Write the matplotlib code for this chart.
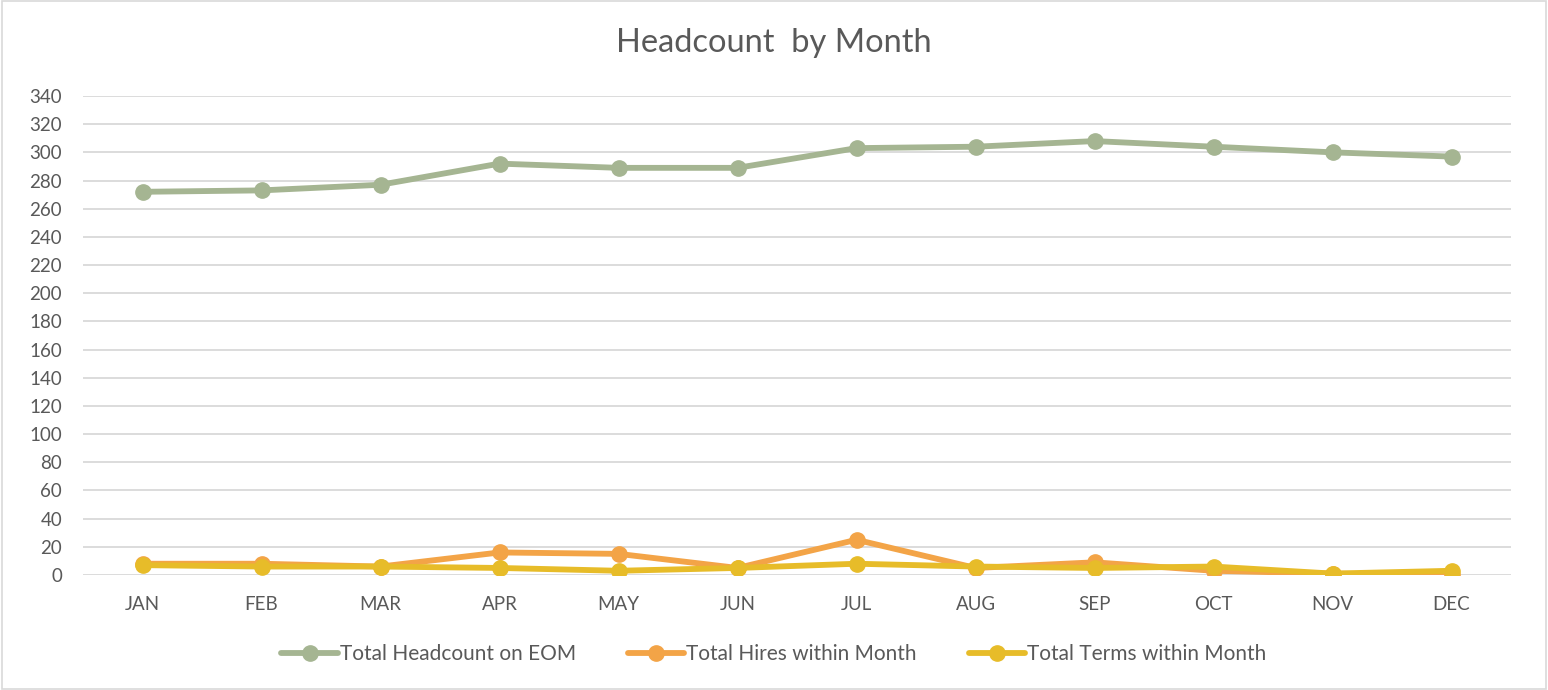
import matplotlib
matplotlib.use("Agg")
import matplotlib.pyplot as plt
from matplotlib.patches import Rectangle

months = ["JAN", "FEB", "MAR", "APR", "MAY", "JUN", "JUL", "AUG", "SEP", "OCT", "NOV", "DEC"]
headcount = [272, 273, 277, 292, 289, 289, 303, 304, 308, 304, 300, 297]
hires = [8, 8, 6, 16, 15, 5, 25, 5, 9, 3, 1, 0]
terms = [7, 6, 6, 5, 3, 5, 8, 6, 5, 6, 1, 3]

series_names = ["Total Headcount on EOM", "Total Hires within Month", "Total Terms within Month"]
colors = ["#A5B592", "#F3A447", "#E7BC29"]

plt.rcParams['font.family'] = ['Lato', 'DejaVu Sans']
text_color = "#595959"

fig = plt.figure(figsize=(15.48, 6.9), dpi=100)
ax = fig.add_axes([83/1548, 1-575/690, (1511-83)/1548, (575-96)/690])

x = list(range(len(months)))
for vals, name, c in zip([headcount, hires, terms], series_names, colors):
    ax.plot(x, vals, color=c, linewidth=4.2, marker='o', markersize=11,
            markerfacecolor=c, markeredgecolor=c, label=name, solid_capstyle='round')

ax.set_xlim(-0.5, len(months) - 0.5)
ax.set_ylim(0, 340)
ax.set_yticks(range(0, 341, 20))
ax.set_xticks(x)
ax.set_xticklabels(months)
ax.grid(axis='y', color='#D9D9D9', linewidth=1.3)
ax.set_axisbelow(True)
for s in ax.spines.values():
    s.set_visible(False)
ax.tick_params(axis='both', length=0, labelsize=13.5, colors=text_color)
ax.tick_params(axis='x', pad=15)
ax.tick_params(axis='y', pad=15)

fig.text(0.5, 1 - 43/690, "Headcount  by Month", ha='center', va='center',
         fontsize=23.5, color=text_color)

handles, labels = ax.get_legend_handles_labels()
leg = fig.legend(handles, labels, loc='center', bbox_to_anchor=(0.5, 1 - 654/690),
                 ncol=3, frameon=False, fontsize=15, columnspacing=2.5,
                 handlelength=2.7, handletextpad=0.1)
for t in leg.get_texts():
    t.set_color(text_color)

fig.patches.append(Rectangle((0.001, 0.001), 0.998, 0.997, transform=fig.transFigure,
                             fill=False, edgecolor='#D9D9D9', linewidth=1.2))

fig.savefig("out.png", dpi=100, facecolor='white')
